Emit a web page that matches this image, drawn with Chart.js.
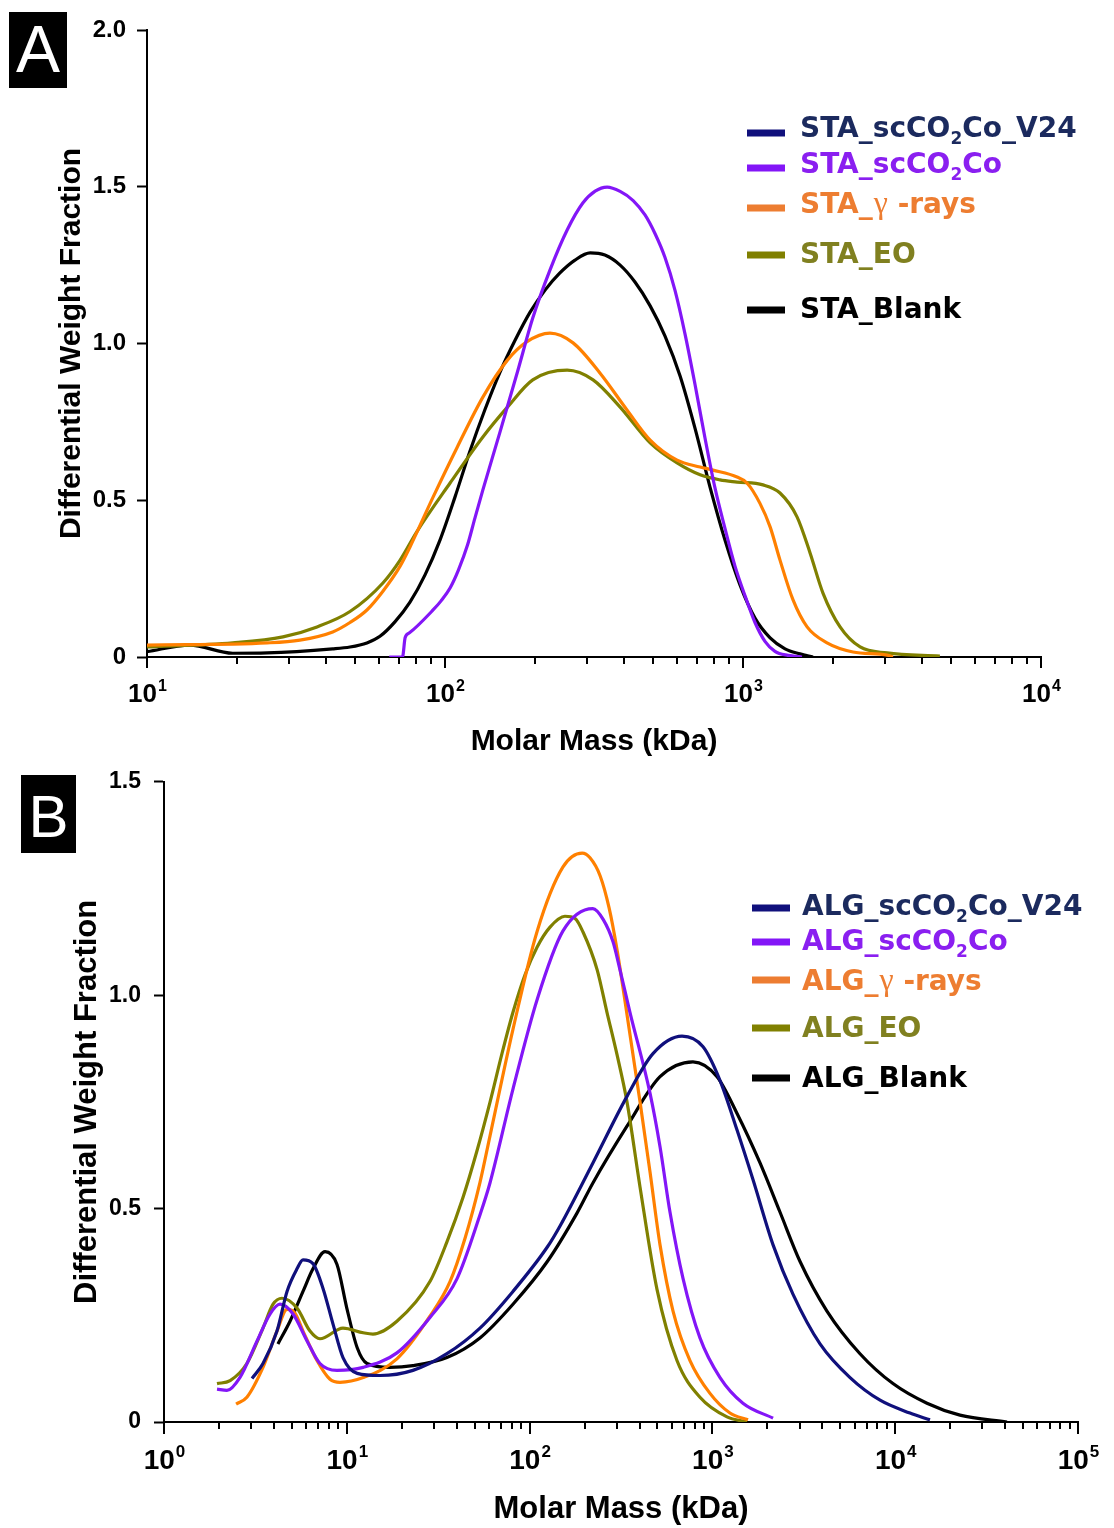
<!DOCTYPE html>
<html>
<head>
<meta charset="utf-8">
<script src="https://cdn.jsdelivr.net/npm/chart.js@4.4.1/dist/chart.umd.min.js"></script>
<style>
  html, body { margin: 0; padding: 0; background: #fff; }
  body { width: 1114px; height: 1528px; position: relative; overflow: hidden; }
  canvas { position: absolute; left: 0; }
  #chartA { top: 0; width: 1114px; height: 765px; }
  #chartB { top: 755px; width: 1114px; height: 773px; }
</style>
</head>
<body>
<canvas id="chartA" width="1114" height="765"></canvas>
<canvas id="chartB" width="1114" height="773"></canvas>
<script>
// ---- panel A : starch (STA) ----
const staDecades = [1, 2, 3, 4];
const staYTicks = [0, 0.5, 1.0, 1.5, 2.0];
const staLabels = ['STA_scCO₂Co_V24', 'STA_scCO₂Co', 'STA_γ -rays', 'STA_EO', 'STA_Blank'];

const staV24Mass = [];
const staV24Frac = [];
const staScMass = [65, 72, 73.5, 76, 91.2, 97, 104, 111, 119, 126, 134, 153, 175, 197, 225, 257, 290, 319, 350, 387, 428, 469, 507, 547, 591, 639, 690, 745, 805, 870, 940, 1016, 1097, 1185, 1280, 1415, 1578];
const staScFrac = [0, 0, 0.062, 0.077, 0.15, 0.179, 0.22, 0.278, 0.357, 0.443, 0.533, 0.718, 0.909, 1.081, 1.234, 1.362, 1.448, 1.486, 1.499, 1.485, 1.456, 1.41, 1.35, 1.275, 1.17, 1.03, 0.87, 0.7, 0.54, 0.41, 0.29, 0.195, 0.11, 0.05, 0.018, 0.005, 0];
const staGammaMass = [10, 25.3, 32.6, 42, 48, 54.7, 61.9, 70.7, 76.3, 91.2, 110, 134, 162, 188, 225, 269, 331, 408, 488, 601, 718, 793, 955, 1031, 1140, 1233, 1331, 1472, 1641, 1914, 2339, 3044, 3187];
const staGammaFrac = [0.038, 0.045, 0.054, 0.08, 0.11, 0.15, 0.21, 0.29, 0.351, 0.51, 0.67, 0.829, 0.947, 1.005, 1.033, 1.002, 0.906, 0.788, 0.692, 0.628, 0.606, 0.596, 0.574, 0.555, 0.49, 0.415, 0.309, 0.182, 0.096, 0.045, 0.016, 0.006, 0];
const staEoMass = [10, 19.4, 28.6, 37.2, 48, 61.9, 70.7, 80.5, 104, 134, 162, 197, 257, 314, 387, 488, 601, 718, 837, 955, 1167, 1331, 1518, 1679, 1855, 2117, 2472, 3044, 4578];
const staEoFrac = [0.032, 0.045, 0.064, 0.096, 0.145, 0.236, 0.309, 0.4, 0.555, 0.702, 0.797, 0.884, 0.915, 0.884, 0.797, 0.683, 0.619, 0.581, 0.565, 0.558, 0.549, 0.523, 0.447, 0.332, 0.204, 0.096, 0.032, 0.013, 0.003];
const staBlankMass = [10, 13.9, 19.4, 25.3, 42, 48, 54.7, 60.5, 67.9, 76.3, 85.7, 96.2, 108, 121, 136, 153, 172, 193, 217, 243, 273, 307, 344, 387, 434, 488, 547, 615, 690, 775, 870, 977, 1097, 1233, 1384, 1553, 1718];
const staBlankFrac = [0.017, 0.038, 0.012, 0.013, 0.026, 0.032, 0.045, 0.066, 0.112, 0.175, 0.262, 0.373, 0.51, 0.654, 0.788, 0.909, 1.011, 1.1, 1.171, 1.225, 1.266, 1.289, 1.282, 1.25, 1.196, 1.12, 1.024, 0.896, 0.73, 0.542, 0.373, 0.23, 0.124, 0.061, 0.026, 0.01, 0];

// ---- panel B : alginate (ALG) ----
const algDecades = [0, 1, 2, 3, 4, 5];
const algYTicks = [0, 0.5, 1.0, 1.5];
const algLabels = ['ALG_scCO₂Co_V24', 'ALG_scCO₂Co', 'ALG_γ -rays', 'ALG_EO', 'ALG_Blank'];

const algV24Mass = [3.03, 3.48, 4.15, 4.71, 5.34, 5.76, 6.53, 7.41, 8.4, 9.53, 11.4, 15.2, 23, 35.3, 53.5, 81.1, 125, 147, 222, 341, 473, 682, 889, 1101, 1364, 1667, 2147, 2762, 3879, 5663, 8265, 12050, 15500];
const algV24Frac = [0.102, 0.137, 0.213, 0.306, 0.359, 0.38, 0.371, 0.313, 0.23, 0.151, 0.114, 0.109, 0.121, 0.16, 0.22, 0.306, 0.41, 0.46, 0.607, 0.763, 0.863, 0.904, 0.879, 0.8, 0.684, 0.568, 0.415, 0.299, 0.183, 0.104, 0.051, 0.021, 0.005];
const algScMass = [1.95, 2.21, 2.6, 3.23, 3.8, 4.31, 5.08, 6.06, 7.13, 8.84, 12.3, 18.8, 28.5, 40.1, 53.5, 60.7, 81.1, 110, 152, 222, 253, 286, 312, 354, 456, 517, 586, 691, 855, 1101, 1469, 2147];
const algScFrac = [0.077, 0.074, 0.104, 0.19, 0.253, 0.276, 0.253, 0.19, 0.137, 0.121, 0.128, 0.162, 0.245, 0.336, 0.485, 0.56, 0.78, 0.99, 1.15, 1.203, 1.177, 1.125, 1.06, 0.96, 0.77, 0.645, 0.492, 0.336, 0.197, 0.104, 0.044, 0.009];
const algGammaMass = [2.48, 2.84, 3.48, 4.15, 4.71, 5.21, 5.76, 6.87, 8.09, 9.18, 12.3, 18.8, 28.5, 36.7, 44.3, 53.5, 60.7, 81.1, 110, 152, 194, 214, 243, 272, 301, 341, 402, 456, 517, 609, 754, 970, 1248, 1566];
const algGammaFrac = [0.042, 0.058, 0.128, 0.213, 0.264, 0.255, 0.213, 0.144, 0.1, 0.093, 0.104, 0.148, 0.248, 0.329, 0.43, 0.561, 0.67, 0.92, 1.15, 1.3, 1.333, 1.322, 1.28, 1.205, 1.106, 0.955, 0.75, 0.585, 0.415, 0.26, 0.144, 0.067, 0.021, 0.005];
const algEoMass = [1.95, 2.3, 2.84, 3.48, 3.95, 4.42, 5.34, 6.29, 7.13, 9.53, 12.3, 13.9, 18.8, 28.5, 35.3, 43.2, 51.5, 60.7, 70.6, 81.1, 94.4, 110, 129, 156, 177, 196, 234, 265, 301, 341, 402, 498, 640, 855, 1202, 1545];
const algEoFrac = [0.09, 0.097, 0.137, 0.22, 0.276, 0.29, 0.267, 0.213, 0.195, 0.22, 0.209, 0.206, 0.236, 0.329, 0.422, 0.526, 0.635, 0.749, 0.863, 0.96, 1.048, 1.113, 1.159, 1.185, 1.18, 1.148, 1.06, 0.96, 0.86, 0.75, 0.55, 0.31, 0.144, 0.058, 0.012, 0];
const algBlankMass = [4.2, 4.89, 5.76, 6.53, 7.6, 8.84, 10, 11.4, 12.9, 17.2, 23, 35.3, 53.5, 81.1, 125, 182, 222, 341, 517, 783, 1060, 1364, 1822, 2342, 3016, 4232, 6418, 9722, 14920, 22610, 40900];
const algBlankFrac = [0.183, 0.236, 0.306, 0.359, 0.399, 0.369, 0.267, 0.174, 0.137, 0.128, 0.132, 0.151, 0.197, 0.276, 0.376, 0.49, 0.56, 0.693, 0.809, 0.844, 0.809, 0.723, 0.607, 0.492, 0.376, 0.26, 0.16, 0.09, 0.044, 0.016, 0];

// colours, same order as the legend
const lineColors = ['#10107c', '#8316f7', '#ff8000', '#808000', '#000000'];
const markColors = ['#10107c', '#8316f7', '#ed7d31', '#808000', '#000000'];
const textColors = ['#1b2a5e', '#8a1ff0', '#ed7d31', '#808020', '#000000'];

function pts(mass, frac) {
  return mass.map((m, i) => ({ x: m, y: frac[i] }));
}

function makeDatasets(labels, series) {
  return labels.map((lab, i) => ({
    label: lab,
    data: pts(series[i][0], series[i][1]),
    borderColor: lineColors[i],
    borderWidth: 3.2,
    pointRadius: 0,
    fill: false,
    cubicInterpolationMode: 'monotone'
  }));
}

// legend text with subscript 2 and a plain gamma
function drawRich(ctx, text, x, y, size, color) {
  ctx.fillStyle = color;
  ctx.textAlign = 'left';
  ctx.textBaseline = 'alphabetic';
  text.split(/(₂|γ)/).filter(Boolean).forEach(run => {
    if (run === '₂') {
      ctx.font = `bold ${Math.round(size * 0.62)}px "DejaVu Sans"`;
      ctx.fillText('2', x, y + size * 0.26);
      x += ctx.measureText('2').width;
    } else if (run === 'γ') {
      ctx.font = `${Math.round(size * 1.15)}px "Liberation Serif"`;
      ctx.fillText(run, x + 1, y);
      x += ctx.measureText(run).width + 1;
    } else {
      ctx.font = `bold ${size}px "DejaVu Sans"`;
      ctx.fillText(run, x, y);
      x += ctx.measureText(run).width;
    }
  });
}

const decor = {
  id: 'decor',
  afterDraw(chart, args, o) {
    const { ctx, chartArea: ca } = chart;
    const xs = chart.scales.x;
    ctx.save();

    // log ticks, long at each decade
    ctx.strokeStyle = '#000';
    ctx.lineWidth = 2;
    const first = o.decades[0], last = o.decades[o.decades.length - 1];
    for (let e = first; e <= last; e++) {
      for (let s = 1; s <= 9; s++) {
        const v = s * Math.pow(10, e);
        if (v > xs.max * 1.001) break;
        const px = Math.round(xs.getPixelForValue(v));
        ctx.beginPath();
        ctx.moveTo(px, ca.bottom);
        ctx.lineTo(px, ca.bottom + (s === 1 ? o.majorLen : o.minorLen));
        ctx.stroke();
      }
    }

    // 10^n labels
    ctx.fillStyle = '#000';
    ctx.textAlign = 'left';
    ctx.textBaseline = 'alphabetic';
    o.decades.forEach(e => {
      const px = xs.getPixelForValue(Math.pow(10, e));
      ctx.font = `bold ${o.tickSize}px "Liberation Sans"`;
      const w1 = ctx.measureText('10').width;
      ctx.font = `bold ${o.supSize}px "Liberation Sans"`;
      const w2 = ctx.measureText(String(e)).width;
      const x0 = px - (w1 + w2) / 2;
      const yb = ca.bottom + o.labelDrop;
      ctx.font = `bold ${o.tickSize}px "Liberation Sans"`;
      ctx.fillText('10', x0, yb);
      ctx.font = `bold ${o.supSize}px "Liberation Sans"`;
      ctx.fillText(String(e), x0 + w1 + 1, yb - o.supRaise);
    });

    // legend
    const lg = o.legend;
    chart.data.datasets.forEach((ds, i) => {
      ctx.fillStyle = markColors[i];
      ctx.fillRect(lg.x0, lg.marks[i] - 3.5, lg.x1 - lg.x0, 7);
      drawRich(ctx, ds.label, lg.textX, lg.rows[i], lg.size, textColors[i]);
    });

    // panel letter
    const p = o.panel;
    ctx.fillStyle = '#000';
    ctx.fillRect(p.x, p.y, p.w, p.h);
    ctx.fillStyle = '#fff';
    ctx.font = `${p.size}px "Liberation Sans"`;
    ctx.textAlign = 'center';
    ctx.fillText(p.text, p.x + p.w / 2, p.baseline);
    ctx.restore();
  }
};

function makeChart(id, cfg) {
  return new Chart(document.getElementById(id), {
    type: 'line',
    data: { datasets: makeDatasets(cfg.labels, cfg.series) },
    plugins: [decor],
    options: {
      responsive: false,
      animation: false,
      layout: { padding: cfg.padding },
      plugins: {
        legend: { display: false },
        tooltip: { enabled: false },
        decor: cfg.decor
      },
      scales: {
        x: {
          type: 'logarithmic',
          min: cfg.xMin,
          max: cfg.xMax,
          ticks: { display: false },
          grid: { display: false },
          border: { display: true, color: '#000', width: 2 },
          title: {
            display: true,
            text: 'Molar Mass (kDa)',
            color: '#000',
            font: { family: 'Liberation Sans', size: cfg.titleSize, weight: 'bold' },
            padding: { top: 0, bottom: cfg.xTitlePad }
          },
          afterFit: s => { s.height = cfg.xHeight; }
        },
        y: {
          min: 0,
          max: cfg.yMax,
          afterBuildTicks: s => { s.ticks = cfg.yTicks.map(v => ({ value: v })); },
          ticks: {
            color: '#000',
            padding: cfg.yPad,
            font: { family: 'Liberation Sans', size: cfg.yTickSize, weight: 'bold' },
            callback: v => (v === 0 ? '0' : v.toFixed(1))
          },
          grid: { drawOnChartArea: false, drawTicks: true, tickLength: 10, tickWidth: 2, tickColor: '#000' },
          border: { display: true, color: '#000', width: 2 },
          title: {
            display: true,
            text: 'Differential Weight Fraction',
            color: '#000',
            font: { family: 'Liberation Sans', size: cfg.titleSize, weight: 'bold' },
            padding: { top: cfg.yTitlePad, bottom: 0 }
          },
          afterFit: s => { s.width = cfg.yWidth; }
        }
      }
    }
  });
}

makeChart('chartA', {
  labels: staLabels,
  series: [[staV24Mass, staV24Frac], [staScMass, staScFrac], [staGammaMass, staGammaFrac], [staEoMass, staEoFrac], [staBlankMass, staBlankFrac]],
  xMin: 10, xMax: 10000, yMax: 2.0, yTicks: staYTicks,
  padding: { left: 10, top: 30, right: 73, bottom: 0 },
  yWidth: 137, xHeight: 108, titleSize: 30, xTitlePad: 5, yTitlePad: 44, yPad: 11, yTickSize: 24,
  decor: {
    decades: staDecades, majorLen: 11, minorLen: 7, tickSize: 26, supSize: 16, labelDrop: 45, supRaise: 11,
    legend: { x0: 747, x1: 785, textX: 800, size: 28, rows: [137, 173, 213, 263, 318], marks: [133, 168, 208, 255, 310] },
    panel: { text: 'A', x: 9, y: 12, w: 58, h: 76, size: 66, baseline: 72 }
  }
});

makeChart('chartB', {
  labels: algLabels,
  series: [[algV24Mass, algV24Frac], [algScMass, algScFrac], [algGammaMass, algGammaFrac], [algEoMass, algEoFrac], [algBlankMass, algBlankFrac]],
  xMin: 1, xMax: 100000, yMax: 1.5, yTicks: algYTicks,
  padding: { left: 10, top: 20, right: 36, bottom: 0 },
  yWidth: 154, xHeight: 106, titleSize: 31, xTitlePad: 0, yTitlePad: 59, yPad: 13, yTickSize: 23,
  decor: {
    decades: algDecades, majorLen: 12, minorLen: 7, tickSize: 28, supSize: 17, labelDrop: 47, supRaise: 12,
    legend: { x0: 752, x1: 790, textX: 802, size: 28, rows: [160, 195, 235, 282, 332], marks: [153, 187, 225, 273, 323] },
    panel: { text: 'B', x: 21, y: 20, w: 55, h: 78, size: 60, baseline: 82 }
  }
});
</script>
</body>
</html>
